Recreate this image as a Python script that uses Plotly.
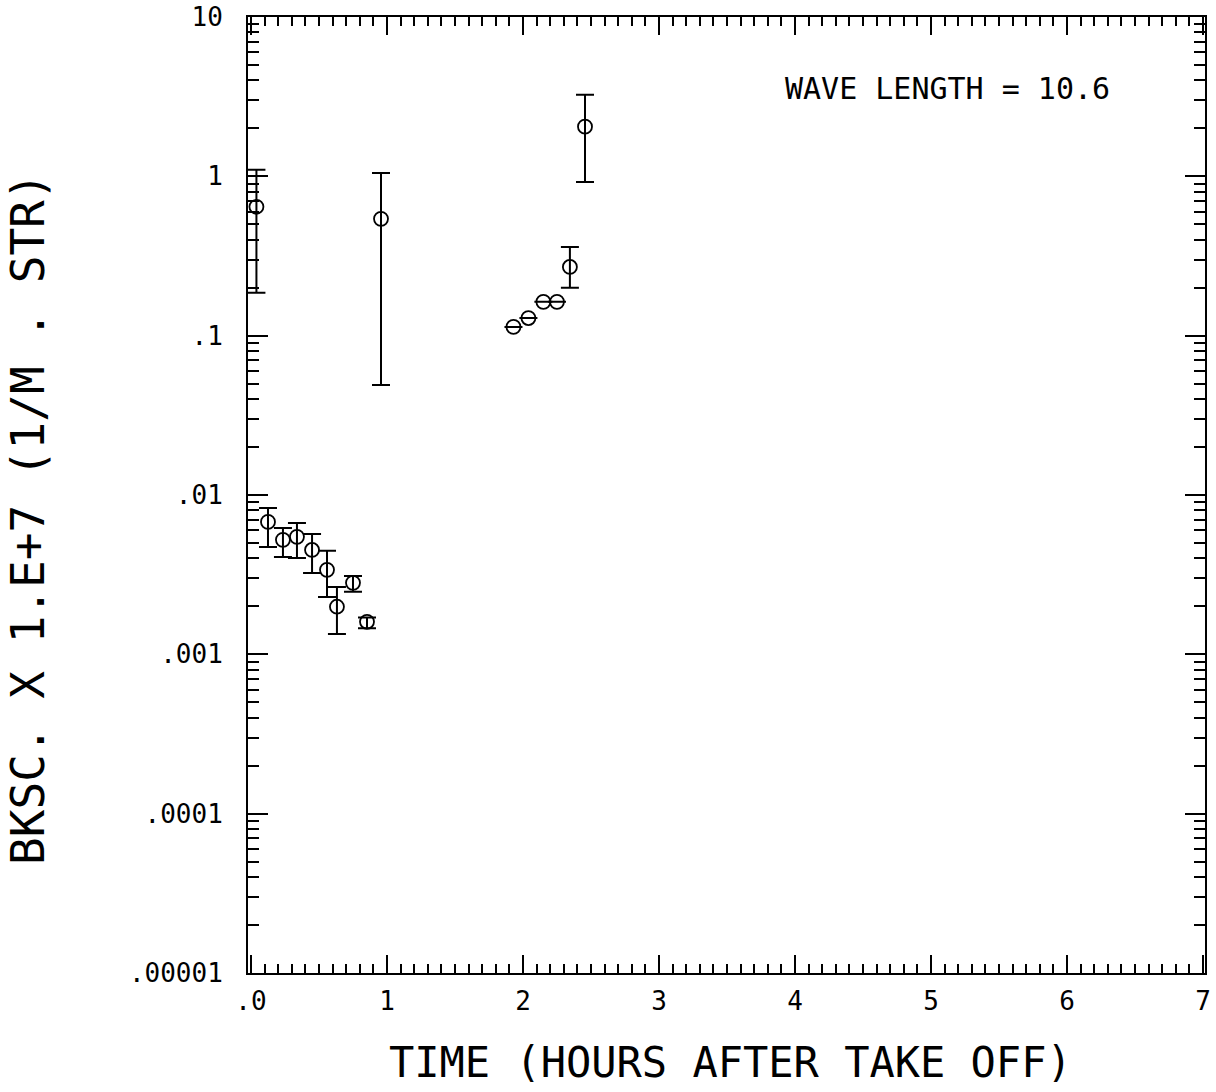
import plotly.graph_objects as go

# Data
time_h = [0.04, 0.956, 2.456, 2.345, 1.93, 2.04, 2.15, 2.25,
          0.125, 0.235, 0.338, 0.449, 0.559, 0.632, 0.75, 0.853]
bksc = [0.644, 0.541, 2.05, 0.27, 0.1135, 0.129, 0.163, 0.163,
        0.00678, 0.00523, 0.00546, 0.00452, 0.00339, 0.00199, 0.00281, 0.0016]
err_hi = [1.1, 1.05, 3.25, 0.36, None, None, None, None,
          0.0083, 0.0062, 0.00668, 0.00569, 0.00446, 0.00265, 0.0031, 0.0017]
err_lo = [0.186, 0.049, 0.92, 0.20, None, None, None, None,
          0.00472, 0.00408, 0.00403, 0.00324, 0.00229, 0.00134, 0.00247, 0.00146]

x_tickvals = [0, 1, 2, 3, 4, 5, 6, 7]
x_ticktext = [".0", "1", "2", "3", "4", "5", "6", "7"]
y_tickvals = [1e-5, 1e-4, 1e-3, 1e-2, 1e-1, 1, 10]
y_ticktext = [".00001", ".0001", ".001", ".01", ".1", "1", "10"]

plus = [(h - v) if h is not None else 0 for h, v in zip(err_hi, bksc)]
minus = [(v - l) if l is not None else 0 for l, v in zip(err_lo, bksc)]

y_minor = []
for e in range(-5, 1):
    for k in range(2, 10):
        y_minor.append(k * 10 ** e)

FONT = "DejaVu Sans Mono"

fig = go.Figure()
fig.add_trace(go.Scatter(
    x=time_h, y=bksc, mode="markers",
    marker=dict(symbol="circle-open", size=14, color="black", line=dict(width=1.8, color="black")),
    error_y=dict(type="data", symmetric=False, array=plus, arrayminus=minus,
                 color="black", thickness=2, width=9),
    showlegend=False,
))

fig.update_layout(
    width=1216, height=1092,
    margin=dict(l=248, r=11, t=17, b=119),
    paper_bgcolor="white", plot_bgcolor="white",
    font=dict(family=FONT, color="black"),
    xaxis=dict(
        range=[-0.022, 7.015], tickmode="array", tickvals=x_tickvals, ticktext=x_ticktext,
        ticks="inside", ticklen=18, tickwidth=2, tickcolor="black",
        minor=dict(dtick=0.1, tick0=0, ticks="inside", ticklen=9, tickwidth=1.5, tickcolor="black"),
        showline=True, linecolor="black", linewidth=2, mirror="allticks",
        showgrid=False, zeroline=False, automargin=False,
        tickfont=dict(family=FONT, size=26, color="black"),
        ticklabelstandoff=4,
    ),
    yaxis=dict(
        type="log", range=[-5, 1], tickmode="array", tickvals=y_tickvals, ticktext=y_ticktext,
        ticks="inside", ticklen=20, tickwidth=2, tickcolor="black",
        minor=dict(tickvals=y_minor, ticks="inside", ticklen=11, tickwidth=1.5, tickcolor="black"),
        showline=True, linecolor="black", linewidth=2, mirror="allticks",
        showgrid=False, zeroline=False, automargin=False,
        tickfont=dict(family=FONT, size=26, color="black"),
        ticklabelstandoff=18,
    ),
    annotations=[
        dict(text="WAVE LENGTH = 10.6", xref="paper", yref="paper",
             x=0.559, y=0.9257, xanchor="left", yanchor="middle", showarrow=False,
             font=dict(family=FONT, size=30, color="black")),
        dict(text="BKSC. X 1.E+7 (1/M . STR)", xref="paper", yref="paper",
             x=-0.2299, y=0.475, xanchor="center", yanchor="middle", showarrow=False,
             textangle=-90, font=dict(family=FONT, size=46, color="black")),
        dict(text="TIME (HOURS AFTER TAKE OFF)", xref="paper", yref="paper",
             x=0.5037, y=-0.0941, xanchor="center", yanchor="middle", showarrow=False,
             font=dict(family=FONT, size=42, color="black")),
    ],
)

fig.write_html("out.html", config={"displayModeBar": False},
               post_script="document.body.style.margin='0';document.body.style.padding='0';")
